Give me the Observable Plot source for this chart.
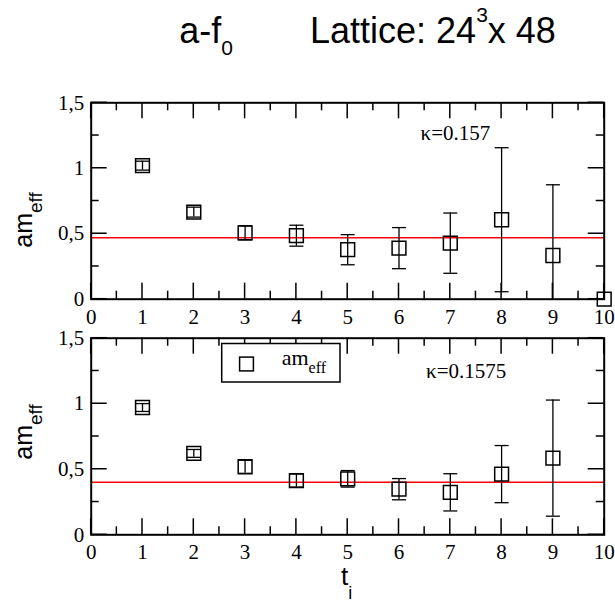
<!DOCTYPE html>
<html><head><meta charset="utf-8">
<script src="https://cdn.jsdelivr.net/npm/d3@7"></script>
<script src="https://cdn.jsdelivr.net/npm/@observablehq/plot@0.6"></script>
<style>
body{margin:0;background:#fff;}
#fig{position:relative;width:615px;height:606px;overflow:hidden;background:#fff;}
#fig > svg{position:absolute;left:0;top:0;}
</style></head><body><div id="fig"></div>
<script>
// ---- data ----
const tTop = [1, 2, 3, 4, 5, 6, 7, 8, 9, 10];
const valTop = [1.02, 0.665, 0.507, 0.485, 0.378, 0.39, 0.428, 0.607, 0.334, 0.0];
const errTop = [0.034, 0.038, 0.054, 0.08, 0.115, 0.157, 0.23, 0.55, 0.54, 0];
const fitTop = 0.47;
const kappaTop = "κ=0.157";

const tBot = [1, 2, 3, 4, 5, 6, 7, 8, 9];
const valBot = [0.971, 0.621, 0.519, 0.414, 0.427, 0.348, 0.324, 0.463, 0.585];
const errBot = [0.03, 0.03, 0.05, 0.05, 0.063, 0.081, 0.142, 0.218, 0.443];
const fitBot = 0.40;
const kappaBot = "κ=0.1575";

const xTicks = [0, 1, 2, 3, 4, 5, 6, 7, 8, 9, 10];
const xMinor = [0.5, 1.5, 2.5, 3.5, 4.5, 5.5, 6.5, 7.5, 8.5, 9.5];
const yTicks = [0, 0.5, 1, 1.5];
const yTickLabels = ["0", "0,5", "1", "1,5"];
const yMinor = [0.25, 0.75, 1.25];

// ---- layout ----
const W = 615, H = 606, L = 90.7, R = 603.7;
const X0 = 0, X1 = 10, Y0 = 0, Y1 = 1.5;
const serif = "'Liberation Serif', 'Times New Roman', serif";
const sans = "'Liberation Sans', Arial, sans-serif";

const capSym = {draw(ctx) { ctx.moveTo(-7, 0); ctx.lineTo(7, 0); }};

function panel(t, v, e, fit, kappa, kx, ky, mT, mB) {
  const rows = t.map((ti, i) => ({t: ti, v: v[i], e: e[i], lo: v[i] - e[i], hi: v[i] + e[i], loC: Math.max(0, v[i] - e[i])}));
  const bars = rows.filter(d => d.e > 0);
  const p = Plot.plot({
    width: W, height: H,
    marginLeft: L, marginRight: W - R, marginTop: mT, marginBottom: H - mB,
    style: {background: "transparent", overflow: "visible", fontFamily: serif, fontSize: "21px", color: "black"},
    x: {domain: [X0, X1]},
    y: {domain: [Y0, Y1]},
    marks: [
      Plot.ruleY([fit], {stroke: "#ff0000", strokeWidth: 1.5}),
      Plot.ruleX(bars, {x: "t", y1: "loC", y2: "hi", stroke: "black", strokeWidth: 1.3}),
      Plot.dot(bars, {x: "t", y: "hi", symbol: capSym, r: 5, fill: "none", stroke: "black", strokeWidth: 1.3}),
      Plot.dot(bars.filter(d => d.lo >= 0), {x: "t", y: "lo", symbol: capSym, r: 5, fill: "none", stroke: "black", strokeWidth: 1.3}),
      Plot.dot(rows, {x: "t", y: "v", symbol: "square", r: 7.8, fill: "none", stroke: "black", strokeWidth: 1.5}),
      Plot.frame({stroke: "black", strokeWidth: 2}),
      Plot.axisX({ticks: xTicks, anchor: "bottom", tickSize: 0, tickPadding: 9.5, label: null, fontFamily: serif, fontSize: 21, fill: "black", tickFormat: d => String(d)}),
      Plot.axisY({ticks: yTicks, anchor: "left", tickSize: 0, tickPadding: 7, label: null, fontFamily: serif, fontSize: 21, fill: "black", tickFormat: d => yTickLabels[yTicks.indexOf(d)]}),
      Plot.text([{x: kx, y: ky, s: kappa}], {x: "x", y: "y", text: "s", lineAnchor: "bottom", textAnchor: "middle", fontFamily: serif, fontSize: 21, fill: "black"})
    ]
  });
  d3.select(p).selectAll("text").style("font-family", serif).style("font-size", "21px");
  return p;
}

const fig = document.getElementById("fig");
const pTop = panel(tTop, valTop, errTop, fitTop, kappaTop, 7.10, 1.213, 102.3, 298.7);
const pBot = panel(tBot, valBot, errBot, fitBot, kappaBot, 7.31, 1.193, 337.7, 534.3);
fig.appendChild(pTop);
fig.appendChild(pBot);

// ---- overlay: inward ticks (from Plot's scales), title, axis titles, legend ----
const ov = d3.select(fig).append("svg").attr("width", W).attr("height", H);

function ticks(p, mT, mB) {
  const sx = p.scale("x"), sy = p.scale("y");
  const g = ov.append("g").attr("stroke", "black").attr("stroke-width", 1.5);
  const xs = [...xTicks.map(d => [d, 16]), ...xMinor.map(d => [d, 8])];
  const ys = [...yTicks.map(d => [d, 16]), ...yMinor.map(d => [d, 8])];
  for (const [d, len] of xs) {
    const px = sx.apply(d);
    g.append("line").attr("x1", px).attr("x2", px).attr("y1", mB).attr("y2", mB - len);
    g.append("line").attr("x1", px).attr("x2", px).attr("y1", mT).attr("y2", mT + len);
  }
  for (const [d, len] of ys) {
    const py = sy.apply(d);
    g.append("line").attr("x1", L).attr("x2", L + len).attr("y1", py).attr("y2", py);
    g.append("line").attr("x1", R).attr("x2", R - len).attr("y1", py).attr("y2", py);
  }
}
ticks(pTop, 102.3, 298.7);
ticks(pBot, 337.7, 534.3);

const t1 = ov.append("text").attr("x", 179.3).attr("y", 43).attr("font-family", sans).attr("font-size", 36).attr("fill", "black");
t1.append("tspan").text("a-f");
t1.append("tspan").attr("dy", 12.3).attr("font-size", 21).text("0");

const t2 = ov.append("text").attr("x", 310).attr("y", 43).attr("font-family", sans).attr("font-size", 36).attr("fill", "black");
t2.append("tspan").text("Lattice: 24");
t2.append("tspan").attr("dy", -21.5).attr("font-size", 21).text("3");
t2.append("tspan").attr("dy", 21.5).text("x 48");

function yTitle(cy) {
  const g = ov.append("text").attr("transform", `translate(31.7,${cy}) rotate(-90)`)
    .attr("text-anchor", "middle").attr("font-family", sans).attr("font-size", 25).attr("fill", "black");
  g.append("tspan").text("am");
  g.append("tspan").attr("dy", 10).attr("font-size", 19).text("eff");
}
yTitle(220);
yTitle(432);

const xt = ov.append("text").attr("x", 341).attr("y", 585).attr("font-family", sans).attr("font-size", 26).attr("fill", "black");
xt.append("tspan").text("t");
xt.append("tspan").attr("dy", 14).attr("font-size", 18).text("i");

// legend
ov.append("rect").attr("x", 221.7).attr("y", 343.5).attr("width", 118.3).attr("height", 38.5)
  .attr("fill", "white").attr("stroke", "black").attr("stroke-width", 1.5);
ov.append("rect").attr("x", 239.6).attr("y", 357.1).attr("width", 13.8).attr("height", 13.8)
  .attr("fill", "none").attr("stroke", "black").attr("stroke-width", 1.5);
const lt = ov.append("text").attr("x", 281.7).attr("y", 365).attr("font-family", serif).attr("font-size", 22).attr("fill", "black");
lt.append("tspan").text("am");
lt.append("tspan").attr("dy", 8).attr("font-size", 16).text("eff");
</script>
</body></html>
